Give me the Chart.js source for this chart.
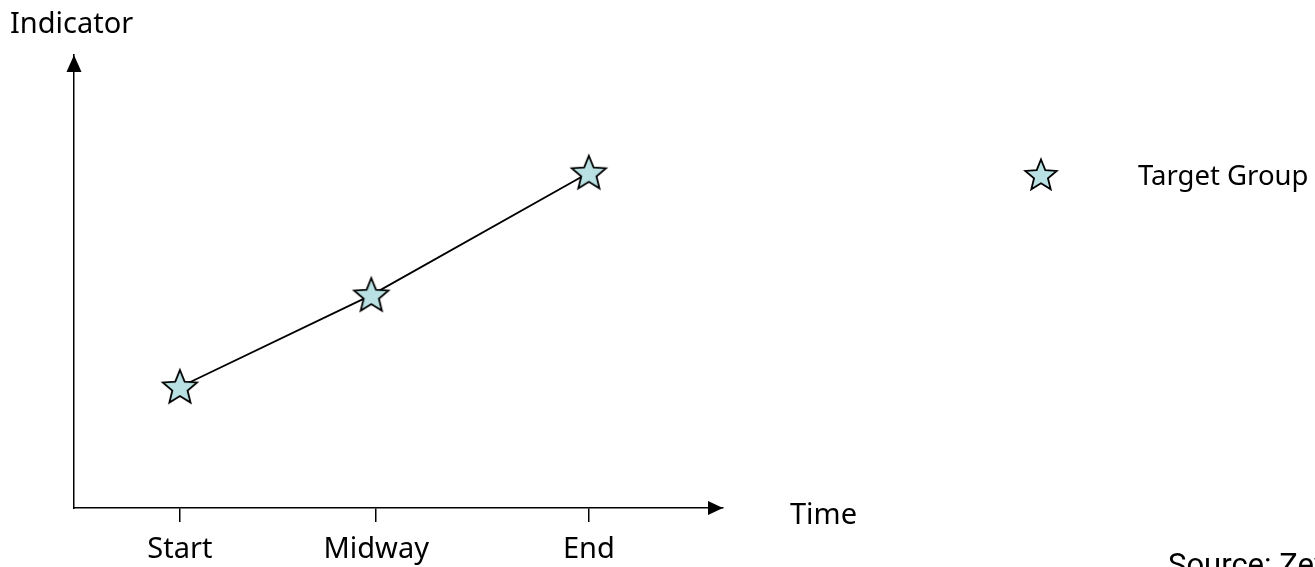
<!DOCTYPE html>
<html><head><meta charset="utf-8">
<script src="https://cdn.jsdelivr.net/npm/chart.js@4.4.1/dist/chart.umd.min.js"></script>
<style>
html,body{margin:0;padding:0;background:#fff;overflow:hidden}
#wrap{position:relative;width:1315px;height:567px;overflow:hidden}
#c{position:absolute;left:0;top:0}
.lbl{position:absolute;font-family:'Noto Sans',sans-serif;font-size:29px;color:#000;line-height:1;white-space:nowrap}
#leg{position:absolute;left:1021px;top:155px}
</style></head><body>
<div id="wrap">
<canvas id="c"></canvas>
<div class="lbl" id="ylab" style="left:10px;top:7px">Indicator</div>
<div class="lbl" id="xlab" style="left:790px;top:498px">Time</div>
<canvas id="leg" width="40" height="40"></canvas>
<div class="lbl" id="legtxt" style="left:1138px;top:161px;font-size:27.5px">Target Group</div>
<div class="lbl" id="src" style="left:1168px;top:549px;font-family:Roboto,sans-serif;font-size:31px">Source: Zev</div>
</div>
<script>
// ---- data ----
const tickLabels = ['Start', 'Midway', 'End'];
const tickValues = [0, 4.8, 10];          // time positions of the axis ticks
const pointTimes = [0, 4.68, 10];         // time of each observation
const indicatorValues = [2.67, 4.70, 7.40];
const seriesName = 'Target Group';

function drawStar(ctx, cx, cy, R, r) {
  ctx.beginPath();
  for (let i = 0; i < 10; i++) {
    const rad = i % 2 === 0 ? R : r;
    const a = -Math.PI / 2 + i * Math.PI / 5;
    const x = cx + rad * Math.cos(a), y = cy + rad * Math.sin(a);
    if (i === 0) ctx.moveTo(x, y); else ctx.lineTo(x, y);
  }
  ctx.closePath();
  ctx.fillStyle = '#b9e1e3';
  ctx.fill();
  ctx.lineWidth = 1.8;
  ctx.strokeStyle = '#000';
  ctx.lineJoin = 'miter';
  ctx.stroke();
}
const starImg = document.createElement('canvas');
starImg.width = 40; starImg.height = 40;
drawStar(starImg.getContext('2d'), 20, 21, 18, 8);
drawStar(document.getElementById('leg').getContext('2d'), 20, 21, 16.5, 7.3);

const arrows = {
  id: 'arrows',
  afterDraw(chart) {
    const {ctx, chartArea: a} = chart;
    ctx.save();
    ctx.fillStyle = '#000';
    ctx.beginPath();
    ctx.moveTo(a.right, a.bottom);
    ctx.lineTo(a.right - 15, a.bottom - 7);
    ctx.lineTo(a.right - 15, a.bottom + 7);
    ctx.closePath(); ctx.fill();
    ctx.beginPath();
    ctx.moveTo(a.left, a.top);
    ctx.lineTo(a.left - 7.5, a.top + 17);
    ctx.lineTo(a.left + 7.5, a.top + 17);
    ctx.closePath(); ctx.fill();
    ctx.restore();
  }
};

Chart.defaults.font.family = "'Noto Sans', sans-serif";
Chart.defaults.font.size = 29;
Chart.defaults.color = '#000';

new Chart(document.getElementById('c'), {
  type: 'scatter',
  data: {
    datasets: [{
      label: seriesName,
      data: pointTimes.map((t, i) => ({x: t, y: indicatorValues[i]})),
      showLine: true,
      borderColor: '#000',
      borderWidth: 1.8,
      pointStyle: starImg,
      pointRadius: 18,
      clip: false
    }]
  },
  options: {
    responsive: true,
    maintainAspectRatio: false,
    animation: false,
    layout: {padding: {left: 74, right: 592, top: 55, bottom: 0}},
    plugins: {legend: {display: false}, tooltip: {enabled: false}},
    scales: {
      x: {
        type: 'linear',
        min: -2.59, max: 13.28,
        afterBuildTicks(s) { s.ticks = tickValues.map(v => ({value: v})); },
        afterFit(s) { s.height = 59; },
        ticks: {
          callback: (v) => { const i = tickValues.indexOf(v); return i >= 0 ? tickLabels[i] : ''; },
          padding: 10, maxRotation: 0, autoSkip: false
        },
        grid: {display: true, drawOnChartArea: false, drawTicks: true, tickLength: 14, color: '#000', lineWidth: 1.5},
        border: {display: true, color: '#000', width: 1.5}
      },
      y: {
        min: 0, max: 10,
        afterFit(s) { s.width = 0; },
        ticks: {display: false},
        grid: {display: false},
        border: {display: true, color: '#000', width: 1.5}
      }
    }
  },
  plugins: [arrows]
});
</script>
</body></html>
